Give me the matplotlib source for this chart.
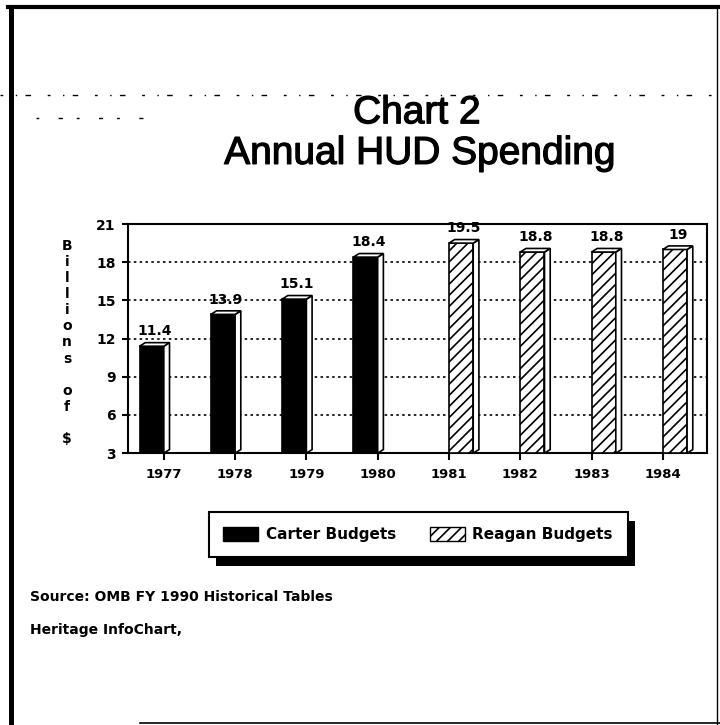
import matplotlib.pyplot as plt
import matplotlib.patheffects as pe
from matplotlib.patches import Polygon, Patch, Rectangle
from matplotlib.lines import Line2D
from matplotlib.transforms import IdentityTransform

# HUD spending, billions of $
years = ['1977', '1978', '1979', '1980', '1981', '1982', '1983', '1984']
carter = [11.4, 13.9, 15.1, 18.4]
reagan = [19.5, 18.8, 18.8, 19]
y_ticks = [3, 6, 9, 12, 15, 18, 21]

plt.rcParams['font.family'] = 'DejaVu Sans'
plt.rcParams['hatch.linewidth'] = 1.2

fig = plt.figure(figsize=(7.2, 7.25), dpi=100)
ax = fig.add_axes([0.178, 0.375, 0.804, 0.316])

ymin = y_ticks[0]
w = 0.34
off = 0.17
dx, dy = 0.08, 0.28

carter_x = [i - off for i in range(len(carter))]
reagan_x = [len(carter) + i + off for i in range(len(reagan))]

b1 = ax.bar(carter_x, [v - ymin for v in carter], bottom=ymin, width=w,
            color='black', edgecolor='black', linewidth=1.2, zorder=3)
b2 = ax.bar(reagan_x, [v - ymin for v in reagan], bottom=ymin, width=w,
            color='white', edgecolor='black', hatch='///', linewidth=1.2, zorder=3)

# fake 3d: side and top faces
for bars, vals in [(b1, carter), (b2, reagan)]:
    for r, v in zip(bars, vals):
        x0 = r.get_x()
        x1 = x0 + r.get_width()
        y0 = r.get_y()
        y1 = y0 + r.get_height()
        side = Polygon([(x1, y0), (x1 + dx, y0 + dy), (x1 + dx, y1 + dy), (x1, y1)],
                       closed=True, facecolor='white', edgecolor='black', lw=1.2, zorder=3)
        top = Polygon([(x0, y1), (x0 + dx, y1 + dy), (x1 + dx, y1 + dy), (x1, y1)],
                      closed=True, facecolor='white', edgecolor='black', lw=1.2, zorder=3)
        ax.add_patch(side)
        ax.add_patch(top)
        ax.annotate('{:g}'.format(v), (x0 + (x1 - x0 + dx) / 2, y1 + dy),
                    xytext=(0, 3), textcoords='offset points', ha='center', va='bottom',
                    fontsize=10, fontweight='bold', zorder=4)

ax.set_xlim(-0.5, 7.62)
ax.set_ylim(ymin, y_ticks[-1])
ax.set_xticks(range(len(years)))
ax.set_xticklabels(years, fontsize=9.5, fontweight='bold')
ax.set_yticks(y_ticks)
ax.set_yticklabels([str(t) for t in y_ticks], fontsize=10, fontweight='bold')
ax.tick_params(axis='x', length=5, width=1.5, pad=6)
ax.tick_params(axis='y', length=4, width=1.5, pad=5)
for s in ax.spines.values():
    s.set_linewidth(1.5)
ax.yaxis.grid(True, linestyle=(0, (1.5, 2)), color='black', lw=1.2, zorder=1)
ax.set_axisbelow(True)

# stacked y label
ylab = '\n'.join('Billions') + '\n\n' + '\n'.join('of') + '\n\n$'
fig.text(0.093, 0.5276, ylab, ha='center', va='center', fontsize=10,
         fontweight='bold', linespacing=1.19)

thick = [pe.withStroke(linewidth=0.9, foreground='black')]
fig.text(0.579, 0.830, 'Chart 2', ha='center', va='baseline', fontsize=28,
         family='Liberation Sans', path_effects=thick)
fig.text(0.583, 0.774, 'Annual HUD Spending', ha='center', va='baseline', fontsize=28,
         family='Liberation Sans', path_effects=thick)

handles = [Patch(facecolor='black', edgecolor='black'),
           Patch(facecolor='white', edgecolor='black', hatch='///')]
leg = fig.legend(handles, ['Carter Budgets', 'Reagan Budgets'], loc='center',
                 bbox_to_anchor=(0.5806, 0.2628), ncol=2, frameon=True, fancybox=False,
                 edgecolor='black', framealpha=1, handlelength=2.3, handleheight=1.1,
                 handletextpad=0.5, columnspacing=2.2, borderpad=0.95,
                 prop={'weight': 'bold', 'size': 11})
leg.get_frame().set_linewidth(1.5)
fig.canvas.draw()
bb = leg.get_window_extent()
fig.patches.append(Rectangle((bb.x0 + 7, bb.y0 - 9), bb.width, bb.height,
                             transform=IdentityTransform(), facecolor='black',
                             edgecolor='none', zorder=4))

fig.text(0.042, 0.177, 'Source: OMB FY 1990 Historical Tables', ha='left', va='center',
         fontsize=10, fontweight='bold')
fig.text(0.042, 0.131, 'Heritage InfoChart,', ha='left', va='center',
         fontsize=10, fontweight='bold')

# page frame and scan specks
fig.add_artist(Line2D([0.0153, 0.0153], [0, 0.99], color='black', lw=3.6))
fig.add_artist(Line2D([0.011, 1], [0.99, 0.99], color='black', lw=3))
fig.add_artist(Line2D([0.996, 0.996], [0, 0.99], color='black', lw=1))
fig.add_artist(Line2D([0.195, 1], [0.003, 0.003], color='black', lw=1.2))
fig.add_artist(Line2D([0, 1], [0.869, 0.869], color='black', lw=1,
                      linestyle=(0, (2, 9, 1, 6, 4, 12))))
fig.add_artist(Line2D([0.05, 0.2], [0.837, 0.837], color='black', lw=1,
                      linestyle=(0, (2, 14, 3, 10))))

fig.savefig('out.png', dpi=100)
